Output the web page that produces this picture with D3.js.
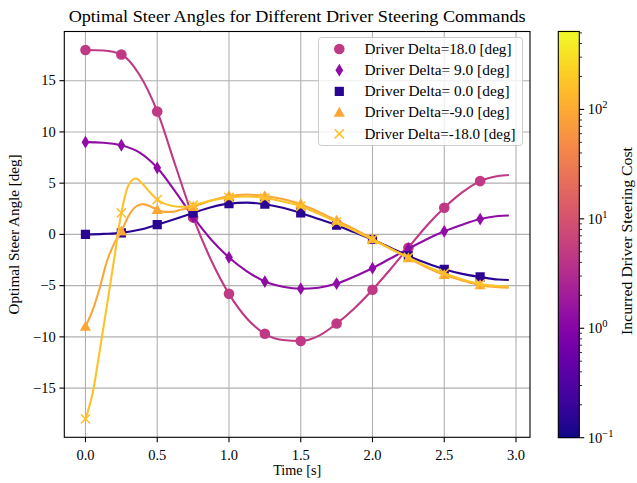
<!DOCTYPE html>
<html><head><meta charset="utf-8">
<script src="https://cdn.jsdelivr.net/npm/d3@7"></script>
<style>
body{margin:0;background:#fff;}
text{font-family:"Liberation Serif","DejaVu Serif",serif;fill:#000;}
</style></head>
<body><svg id="c" width="637" height="483"></svg>
<script>
// ---------- data ----------
const seriesLabels = ["Driver Delta=18.0 [deg]","Driver Delta= 9.0 [deg]","Driver Delta= 0.0 [deg]","Driver Delta=-9.0 [deg]","Driver Delta=-18.0 [deg]"];
const seriesCost = [4.7, 1.3, 0.15, 93, 170];
const seriesMarker = ["circle","thin_diamond","square","triangle","x"];
const t18 = [0,0.125,0.25,0.375,0.5,0.625,0.75,0.875,1,1.125,1.25,1.375,1.5,1.625,1.75,1.875,2,2.125,2.25,2.375,2.5,2.625,2.75,2.875,2.95];
const v18 = [18.0,17.95,17.55,15.6,12.0,6.8,1.65,-2.5,-5.8,-8.2,-9.7,-10.3,-10.4,-9.9,-8.7,-7.2,-5.4,-3.4,-1.3,0.8,2.6,4.1,5.2,5.7,5.8];
const t9 = t18;
const v9 = [9.0,8.95,8.7,8.0,6.5,4.2,1.7,-0.5,-2.25,-3.6,-4.6,-5.1,-5.3,-5.2,-4.8,-4.1,-3.3,-2.35,-1.4,-0.5,0.3,0.95,1.5,1.8,1.85];
const t0 = t18;
const v0 = [0.0,0.05,0.15,0.45,0.95,1.5,2.1,2.65,3.0,3.1,2.95,2.6,2.1,1.5,0.9,0.2,-0.5,-1.3,-2.1,-2.8,-3.4,-3.85,-4.15,-4.4,-4.45];
const tm9 = [0,0.05,0.1,0.15,0.2,0.25,0.3,0.35,0.4,0.45,0.5,0.55,0.6,0.65,0.75,0.875,1,1.125,1.25,1.375,1.5,1.625,1.75,1.875,2,2.125,2.25,2.375,2.5,2.625,2.75,2.875,2.95];
const vm9 = [-9.0,-7.4,-5.2,-2.6,-0.9,0.3,1.8,2.7,2.95,2.75,2.4,2.2,2.2,2.35,2.7,3.3,3.75,3.9,3.75,3.45,2.95,2.2,1.35,0.5,-0.45,-1.4,-2.3,-3.2,-3.95,-4.5,-4.95,-5.15,-5.2];
const tm18 = [0,0.05,0.1,0.15,0.2,0.25,0.3,0.35,0.4,0.45,0.5,0.55,0.6,0.65,0.7,0.75,0.875,1,1.125,1.25,1.375,1.5,1.625,1.75,1.875,2,2.125,2.25,2.375,2.5,2.625,2.75,2.875,2.95];
const vm18 = [-18.0,-15.5,-11.3,-6.9,-2.4,2.1,4.8,5.45,4.9,4.1,3.4,3.0,2.8,2.7,2.7,2.85,3.3,3.6,3.7,3.55,3.2,2.75,2.0,1.2,0.35,-0.5,-1.4,-2.25,-3.1,-3.8,-4.4,-4.85,-5.05,-5.1];
const seriesT = [t18,t9,t0,tm9,tm18];
const seriesV = [v18,v9,v0,vm9,vm18];
const markerTimes = [0,0.25,0.5,0.75,1,1.25,1.5,1.75,2,2.25,2.5,2.75];
const xTicks = [0,0.5,1,1.5,2,2.5,3];
const yTicks = [-15,-10,-5,0,5,10,15];
const cbTicks = [0.1,1,10,100];
const cbTickLabels = [["10","−1"],["10","0"],["10","1"],["10","2"]];
const titleText = "Optimal Steer Angles for Different Driver Steering Commands";
const xLabel = "Time [s]", yLabel = "Optimal Steer Angle [deg]", cbLabel = "Incurred Driver Steering Cost";

// ---------- layout ----------
const svg = d3.select("#c");
const L=64.3, R=530, T=31.5, B=437.3;
const x = d3.scaleLinear().domain([-0.1475,3.0975]).range([L,R]);
const y = d3.scaleLinear().domain([-19.8,19.8]).range([B,T]);
const cmin=0.1, cmax=515;
const color = d3.scaleSequentialLog(d3.interpolatePlasma).domain([cmin,cmax]);

// grid
const g = svg.append("g");
g.selectAll(".gx").data(xTicks).join("line").attr("x1",d=>x(d)).attr("x2",d=>x(d)).attr("y1",T).attr("y2",B)
 .attr("stroke","#b0b0b0").attr("stroke-width",1.1);
g.selectAll(".gy").data(yTicks).join("line").attr("y1",d=>y(d)).attr("y2",d=>y(d)).attr("x1",L).attr("x2",R)
 .attr("stroke","#b0b0b0").attr("stroke-width",1.1);

// series
svg.append("clipPath").attr("id","pc").append("rect").attr("x",L).attr("y",T).attr("width",R-L).attr("height",B-T);
const line = d3.line().x(d=>x(d[0])).y(d=>y(d[1])).curve(d3.curveMonotoneX);
function markerPath(type){
  const p = d3.path();
  if(type==="square"){ const s=4.6; p.rect(-s,-s,2*s,2*s); }
  else if(type==="thin_diamond"){ p.moveTo(0,-6.4); p.lineTo(3.9,0); p.lineTo(0,6.4); p.lineTo(-3.9,0); p.closePath(); }
  else if(type==="triangle"){ p.moveTo(0,-5.8); p.lineTo(5.6,4.2); p.lineTo(-5.6,4.2); p.closePath(); }
  else if(type==="x"){ const s=4.6; p.moveTo(-s,-s); p.lineTo(s,s); p.moveTo(-s,s); p.lineTo(s,-s); }
  return p.toString();
}
const sg = svg.append("g").attr("clip-path","url(#pc)");
seriesT.forEach((ts,i)=>{
  const pts = ts.map((t,k)=>[t,seriesV[i][k]]);
  const col = color(seriesCost[i]);
  sg.append("path").datum(pts).attr("d",line).attr("fill","none").attr("stroke",col).attr("stroke-width",2.1);
  const mk = pts.filter(p=>markerTimes.some(m=>Math.abs(m-p[0])<1e-9));
  if(seriesMarker[i]==="circle"){
    sg.selectAll(null).data(mk).join("circle").attr("cx",d=>x(d[0])).attr("cy",d=>y(d[1])).attr("r",5.3).attr("fill",col);
  } else if(seriesMarker[i]==="x"){
    sg.selectAll(null).data(mk).join("path").attr("transform",d=>`translate(${x(d[0])},${y(d[1])})`).attr("d",markerPath("x")).attr("fill","none").attr("stroke",col).attr("stroke-width",1.6);
  } else {
    sg.selectAll(null).data(mk).join("path").attr("transform",d=>`translate(${x(d[0])},${y(d[1])})`).attr("d",markerPath(seriesMarker[i])).attr("fill",col);
  }
});

// axes frame
svg.append("rect").attr("x",L).attr("y",T).attr("width",R-L).attr("height",B-T).attr("fill","none").attr("stroke","#000").attr("stroke-width",1.1);
// ticks
svg.selectAll(".xt").data(xTicks).join("line").attr("x1",d=>x(d)).attr("x2",d=>x(d)).attr("y1",B).attr("y2",B+4.9).attr("stroke","#000").attr("stroke-width",1.1);
svg.selectAll(".yt").data(yTicks).join("line").attr("y1",d=>y(d)).attr("y2",d=>y(d)).attr("x1",L-4.9).attr("x2",L).attr("stroke","#000").attr("stroke-width",1.1);
svg.selectAll(".xl").data(xTicks).join("text").attr("x",d=>x(d)).attr("y",B+23).attr("text-anchor","middle").attr("font-size",14.5).text(d=>d.toFixed(1));
svg.selectAll(".yl").data(yTicks).join("text").attr("x",L-8.5).attr("y",d=>y(d)+4.8).attr("text-anchor","end").attr("font-size",14.5).text(d=>(d<0?"−":"")+Math.abs(d));

// labels
svg.append("text").attr("x",(L+R)/2).attr("y",22).attr("text-anchor","middle").attr("font-size",17)
  .attr("textLength",457).attr("lengthAdjust","spacingAndGlyphs").text(titleText);
svg.append("text").attr("x",(L+R)/2).attr("y",475).attr("text-anchor","middle").attr("font-size",14.5)
  .attr("textLength",48).attr("lengthAdjust","spacingAndGlyphs").text(xLabel);
svg.append("text").attr("transform",`translate(19,${(T+B)/2}) rotate(-90)`).attr("text-anchor","middle").attr("font-size",14.5)
  .attr("textLength",160).attr("lengthAdjust","spacingAndGlyphs").text(yLabel);

// legend
const legendLen = [147,145,145,145,151];
const lg = svg.append("g");
lg.append("rect").attr("x",318.5).attr("y",37.5).attr("width",204).attr("height",108).attr("rx",3).attr("fill","#fff").attr("fill-opacity",0.8).attr("stroke","#cccccc").attr("stroke-width",1);
seriesLabels.forEach((lab,i)=>{
  const ly = 49 + i*21.2, lx = 339.3, col = color(seriesCost[i]);
  if(seriesMarker[i]==="circle") lg.append("circle").attr("cx",lx).attr("cy",ly).attr("r",5.3).attr("fill",col);
  else if(seriesMarker[i]==="x") lg.append("path").attr("transform",`translate(${lx},${ly})`).attr("d",markerPath("x")).attr("fill","none").attr("stroke",col).attr("stroke-width",1.6);
  else lg.append("path").attr("transform",`translate(${lx},${ly})`).attr("d",markerPath(seriesMarker[i])).attr("fill",col);
  lg.append("text").attr("x",364.5).attr("y",ly+4.8).attr("font-size",14.5).attr("xml:space","preserve").style("white-space","pre")
    .attr("textLength",legendLen[i]).attr("lengthAdjust","spacingAndGlyphs").text(lab);
});

// colorbar
const cbL=558.3, cbR=579.3, cbT=31.5, cbB=437.7;
const cy = d3.scaleLog().domain([cmin,cmax]).range([cbB,cbT]);
const cb = svg.append("g");
const nSteps = Math.ceil(cbB-cbT);
cb.selectAll("rect.s").data(d3.range(nSteps)).join("rect")
  .attr("x",cbL).attr("width",cbR-cbL).attr("y",i=>cbB-i-1).attr("height",1.3)
  .attr("fill",i=>color(cy.invert(cbB-i-0.5)));
cb.append("rect").attr("x",cbL).attr("y",cbT).attr("width",cbR-cbL).attr("height",cbB-cbT).attr("fill","none").attr("stroke","#000").attr("stroke-width",1.1);
const minor=[];
[0.1,1,10,100].forEach(d=>{for(let k=2;k<=9;k++){const v=d*k; if(v<=cmax) minor.push(v);}});
cb.selectAll("line.mi").data(minor).join("line").attr("x1",cbR).attr("x2",cbR+2.8).attr("y1",d=>cy(d)).attr("y2",d=>cy(d)).attr("stroke","#000").attr("stroke-width",0.8);
cb.selectAll("line.ma").data(cbTicks).join("line").attr("x1",cbR).attr("x2",cbR+4.9).attr("y1",d=>cy(d)).attr("y2",d=>cy(d)).attr("stroke","#000").attr("stroke-width",1.1);
cbTicks.forEach((d,i)=>{
  const t = cb.append("text").attr("x",cbR+8.5).attr("y",cy(d)+5).attr("font-size",14.5);
  t.append("tspan").text(cbTickLabels[i][0]);
  t.append("tspan").attr("dy",-6).attr("font-size",10.5).text(cbTickLabels[i][1]);
});
svg.append("text").attr("transform",`translate(632,241) rotate(-90)`).attr("text-anchor","middle").attr("font-size",14.5)
  .attr("textLength",188).attr("lengthAdjust","spacingAndGlyphs").text(cbLabel);
</script></body></html>
